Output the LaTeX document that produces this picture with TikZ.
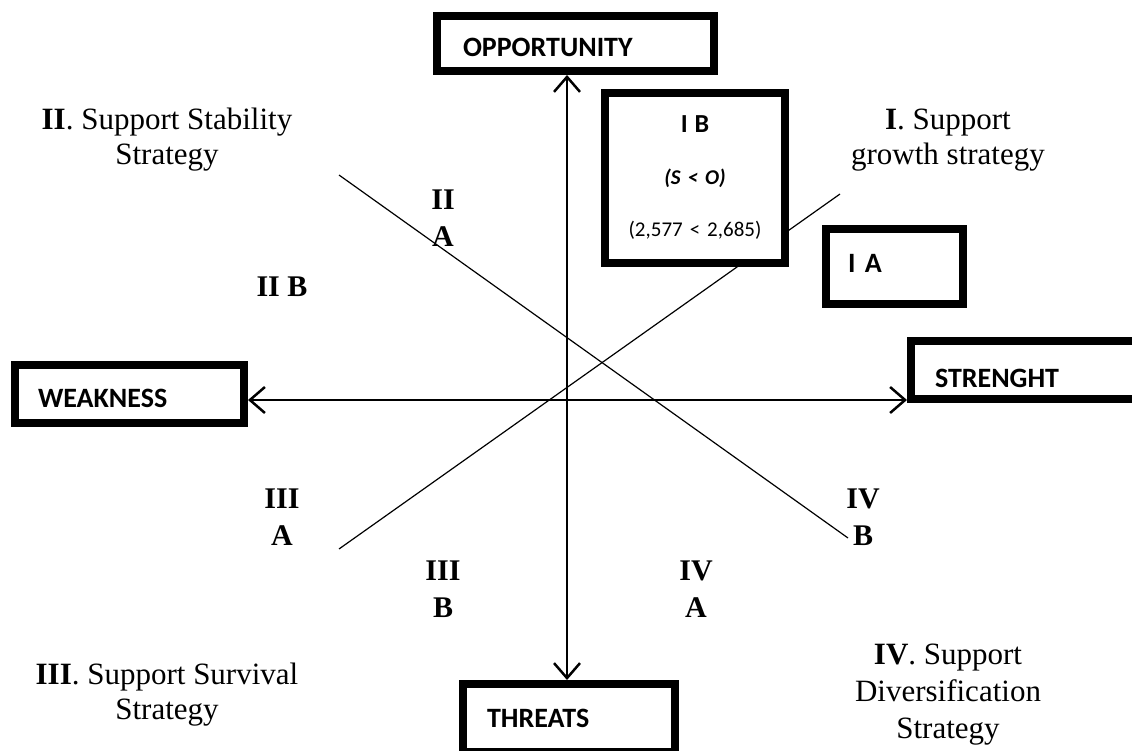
\documentclass[tikz,border=0pt]{standalone}
\usepackage{fontspec}
\setmainfont{Liberation Serif}
\newfontfamily\calib{Carlito}
\usetikzlibrary{arrows.meta}

\begin{document}
\begin{tikzpicture}[x=1pt,y=-1pt,
		box/.style={draw,line width=8pt,fill=white,inner ysep=0pt,text depth=0pt,align=left},
		boxtxt/.style={font=\calib\bfseries\fontsize{28}{30}\selectfont},
		lab/.style={font=\bfseries\fontsize{30}{37}\selectfont,align=center},
		strat/.style={font=\fontsize{31}{35}\selectfont,align=center},
		>={Straight Barb[length=15pt,width=26pt]}]
		\useasboundingbox (0,0) rectangle (1132,751);
		\clip (0,0) rectangle (1132,751);
		% diagonals, behind the boxes
		\coordinate (dga) at (339,175);
		\coordinate (dgb) at (848,538);
		\coordinate (dgc) at (339,549);
		\coordinate (dgd) at (840,194);
		\draw[line width=1.2pt] (dga)--(dgb);
		\draw[line width=1.2pt] (dgc)--(dgd);
		\coordinate (ctr) at (567,400);
		% boxes
		\node[box,boxtxt,text width=225pt,inner xsep=26pt,minimum height=55pt,text height=27pt] (opp) at (575.5,43.5) {OPPORTUNITY};
		\node[box,boxtxt,text width=183pt,inner xsep=23pt,minimum height=58pt,text height=26pt] (weak) at (129.5,394) {WEAKNESS};
		\node[box,boxtxt,text width=191pt,inner xsep=24pt,minimum height=58pt,text height=34pt] (str) at (1030.5,370) {STRENGHT};
		\node[box,boxtxt,text width=93pt,inner xsep=22pt,minimum height=75pt,text height=12pt] (ia) at (894.5,266.5) {I A};
		\node[box,boxtxt,text width=164pt,inner xsep=24pt,minimum height=68pt,text height=18pt] (thr) at (569,718) {THREATS};
		\node[draw,line width=8pt,fill=white,text width=180pt,inner xsep=0pt,minimum height=170pt,align=center,font=\calib\fontsize{21}{24}\selectfont] (ib) at (695,178)
			{{\bfseries\fontsize{26}{26}\selectfont I B}\\[28pt]{\bfseries\itshape (S < O)}\\[28pt](2,577 < 2,685)};
		% axes
		\draw[<->,line width=2.5pt] (opp.south -| ctr)--(thr.north -| ctr);
		\draw[<->,line width=2.5pt] (weak.east |- ctr)--(str.west |- ctr);
		% quadrant labels
		\node[lab] (iia) at (443,218) {II\\A};
		\node[lab] (iib) at (282,287) {II B};
		\node[lab] (iiia) at (282,517) {III\\A};
		\node[lab] (iiib) at (443,589) {III\\B};
		\node[lab] (iva) at (696,589) {IV\\A};
		\node[lab] (ivb) at (863,517) {IV\\B};
		% strategies
		\node[strat] (sii) at (167,140) {\textbf{II}. Support Stability\\Strategy};
		\node[strat] (si) at (948,140) {\textbf{I}. Support\\growth strategy};
		\node[strat] (siii) at (167,695) {\textbf{III}. Support Survival\\Strategy};
		\node[strat,font=\fontsize{31}{37}\selectfont] (siv) at (948,695) {\textbf{IV}. Support\\Diversification\\Strategy};
	\end{tikzpicture}
\end{document}
